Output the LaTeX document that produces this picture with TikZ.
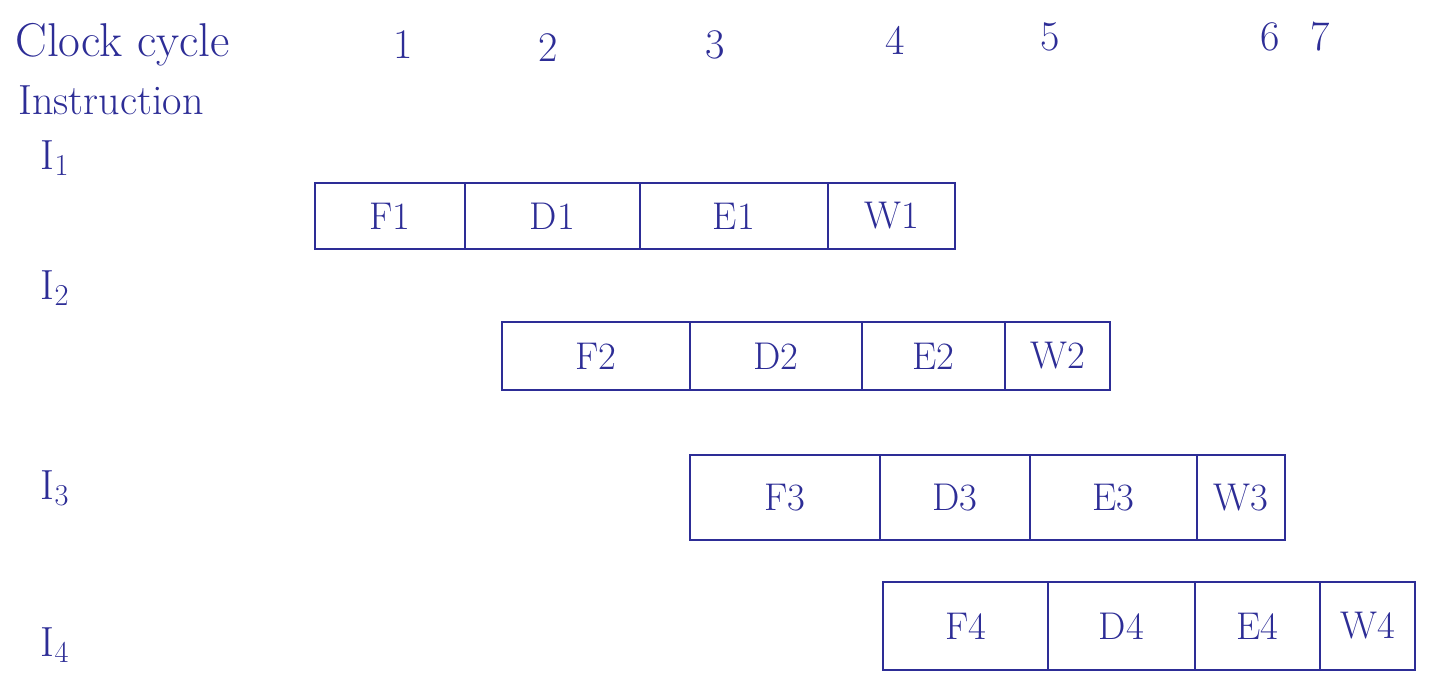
\documentclass[tikz,border=0pt]{standalone}
\usepackage{fontspec}
\begin{document}
\begin{tikzpicture}[x=0.02cm,y=-0.02cm,
  cell/.style={draw=inkblue,line width=0.9pt,rectangle,inner sep=0pt,text=inkblue,font=\fontsize{22}{26}\selectfont},
  lbl/.style={text=inkblue,font=\fontsize{24}{28}\selectfont,inner sep=0pt},
  inslbl/.style={text=inkblue,font=\fontsize{24}{28}\selectfont,inner sep=0pt}]
\definecolor{inkblue}{RGB}{45,45,150}
\useasboundingbox (0,0) rectangle (1431,675);
% header
\node[lbl,anchor=west,font=\fontsize{27}{30}\selectfont] (clk) at (15,45) {Clock cycle};
\node[lbl] (c1) at (403,45) {1};
\node[lbl] (c2) at (548,48) {2};
\node[lbl] (c3) at (715,45) {3};
\node[lbl] (c4) at (895,40) {4};
\node[lbl] (c5) at (1050,37) {5};
\node[lbl] (c6) at (1270,37) {6};
\node[lbl] (c7) at (1320,37) {7};
\node[lbl,anchor=west] (ins) at (18,100) {Instruction};
\node[inslbl] (i1) at (55,158) {I$_1$};
\node[inslbl] (i2) at (55,288) {I$_2$};
\node[inslbl] (i3) at (55,488) {I$_3$};
\node[inslbl] (i4) at (55,645) {I$_4$};
% row 1: 315,465,640,828,955 ; y 183-249
\node[cell,minimum width=3cm,minimum height=1.32cm] (f1) at (390,216) {F1};
\node[cell,minimum width=3.5cm,minimum height=1.32cm] (d1) at (552.5,216) {D1};
\node[cell,minimum width=3.76cm,minimum height=1.32cm] (e1) at (734,216) {E1};
\node[cell,minimum width=2.54cm,minimum height=1.32cm] (w1) at (891.5,216) {W1};
% row 2: 502,690,862,1005,1110 ; y 322-390
\node[cell,minimum width=3.76cm,minimum height=1.36cm] (f2) at (596,356) {F2};
\node[cell,minimum width=3.44cm,minimum height=1.36cm] (d2) at (776,356) {D2};
\node[cell,minimum width=2.86cm,minimum height=1.36cm] (e2) at (933.5,356) {E2};
\node[cell,minimum width=2.1cm,minimum height=1.36cm] (w2) at (1057.5,356) {W2};
% row 3: 690,880,1030,1197,1285 ; y 455-540
\node[cell,minimum width=3.8cm,minimum height=1.7cm] (f3) at (785,497.5) {F3};
\node[cell,minimum width=3cm,minimum height=1.7cm] (d3) at (955,497.5) {D3};
\node[cell,minimum width=3.34cm,minimum height=1.7cm] (e3) at (1113.5,497.5) {E3};
\node[cell,minimum width=1.76cm,minimum height=1.7cm] (w3) at (1241,497.5) {W3};
% row 4: 883,1048,1195,1320,1415 ; y 582-670
\node[cell,minimum width=3.3cm,minimum height=1.76cm] (f4) at (965.5,626) {F4};
\node[cell,minimum width=2.94cm,minimum height=1.76cm] (d4) at (1121.5,626) {D4};
\node[cell,minimum width=2.5cm,minimum height=1.76cm] (e4) at (1257.5,626) {E4};
\node[cell,minimum width=1.9cm,minimum height=1.76cm] (w4) at (1367.5,626) {W4};
\end{tikzpicture}
\end{document}
